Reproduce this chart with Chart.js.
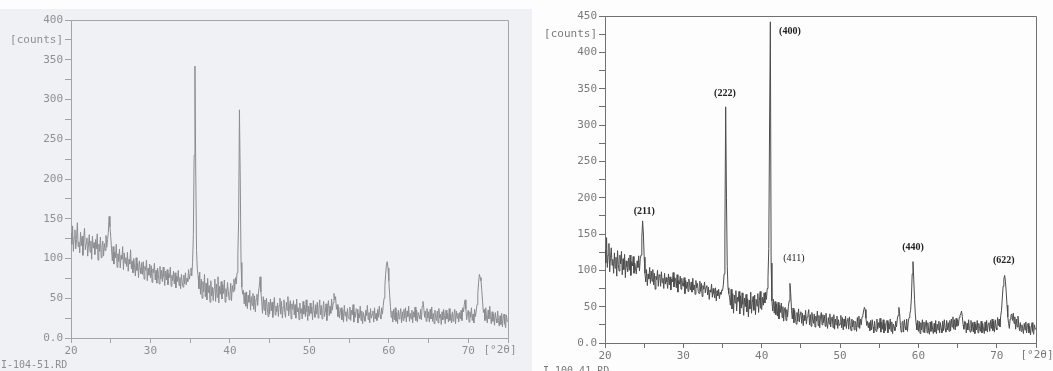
<!DOCTYPE html>
<html lang="en">
<head>
  <meta charset="UTF-8" />
  <title>XRD patterns</title>
  <script src="https://cdn.jsdelivr.net/npm/chart.js"></script>
  <style>
    body {
      margin: 0;
      width: 1053px;
      height: 371px;
      overflow: hidden;
      position: relative;
      background: #fdfdfd;
      font-family: 'DejaVu Sans Mono', monospace;
    }
    #leftBg {
      position: absolute;
      left: 0;
      top: 9px;
      width: 532px;
      height: 362px;
      background: #eff1f4;
    }
    canvas { position: absolute; top: 0; }
    #leftChart { left: 0; }
    #rightChart { left: 541px; }
    .file {
      position: absolute;
      font-size: 10px;
      line-height: 10px;
      color: #8c8e92;
    }
  </style>
</head>
<body>
  <div id="leftBg"></div>
  <canvas id="leftChart" width="532" height="371"></canvas>
  <canvas id="rightChart" width="512" height="371"></canvas>
  <div class="file" style="left:1px; top:360px;">I-104-51.RD</div>
  <div class="file" style="left:543px; top:366px; color:#777;">I-100-41.RD</div>

  <script>
    // scan: 20 .. 75 deg 2theta, 0.1 deg step
    const angleStart = 20;
    const angleStep = 0.1;

    // left pattern (I-104-51), one row per degree
    const leftCounts = [
      132, 118, 141, 109, 127, 136, 112, 124, 145, 115,
      121, 107, 133, 116, 128, 104, 125, 138, 111, 119,
      126, 103, 117, 130, 108, 122, 99, 128, 113, 120,
      105, 124, 112, 131, 98, 118, 109, 127, 101, 116,
      122, 103, 119, 110, 129, 114, 124, 133, 153, 140,
      128, 112, 97, 115, 93, 108, 101, 118, 89, 106,
      96, 112, 88, 104, 99, 115, 86, 107, 94, 101,
      90, 108, 84, 99, 93, 111, 87, 97, 82, 100,
      89, 78, 101, 85, 94, 76, 97, 88, 81, 95,
      80, 96, 74, 90, 85, 98, 72, 88, 79, 93,
      76, 91, 70, 87, 82, 94, 73, 85, 69, 88,
      80, 68, 90, 74, 85, 71, 89, 77, 66, 84,
      73, 86, 67, 81, 76, 89, 65, 79, 72, 84,
      68, 82, 63, 78, 71, 85, 66, 76, 62, 80,
      70, 64, 79, 68, 82, 67, 75, 71, 86, 74,
      80, 88, 78, 95, 130, 230, 342, 210, 110, 86,
      78, 62, 83, 55, 74, 50, 71, 58, 80, 52,
      69, 48, 75, 57, 66, 45, 72, 53, 64, 47,
      63, 74, 46, 68, 51, 77, 44, 65, 55, 71,
      49, 67, 56, 73, 45, 62, 52, 70, 58, 48,
      55, 69, 47, 66, 58, 74, 60, 76, 68, 82,
      105, 150, 287, 200, 95, 64, 55, 60, 43, 57,
      40, 58, 37, 54, 45, 60, 35, 52, 41, 56,
      36, 53, 33, 49, 55, 41, 58, 65, 77, 58,
      46, 31, 52, 35, 48, 29, 50, 38, 27, 45,
      30, 49, 34, 45, 26, 42, 51, 29, 40, 33,
      44, 27, 41, 50, 30, 46, 25, 39, 48, 32,
      26, 45, 35, 52, 28, 40, 47, 24, 43, 36,
      47, 29, 42, 25, 49, 33, 38, 23, 44, 31,
      37, 24, 46, 30, 41, 27, 48, 33, 22, 40,
      28, 44, 31, 39, 23, 47, 34, 26, 42, 30,
      45, 25, 37, 48, 29, 41, 24, 36, 46, 27,
      32, 43, 22, 38, 47, 28, 40, 31, 49, 35,
      44, 56, 48, 52, 36, 42, 27, 39, 25, 34,
      38, 23, 35, 20, 41, 28, 33, 21, 37, 26,
      24, 39, 22, 35, 29, 42, 20, 33, 26, 37,
      36, 19, 31, 25, 40, 22, 34, 18, 32, 27,
      21, 35, 28, 41, 23, 32, 19, 37, 25, 30,
      34, 20, 38, 24, 31, 22, 36, 26, 40, 29,
      24, 38, 30, 41, 50, 65, 80, 92, 96, 88,
      72, 55, 40, 26, 34, 20, 36, 23, 38, 21,
      32, 18, 35, 24, 30, 37, 19, 33, 22, 36,
      25, 38, 20, 34, 27, 40, 21, 31, 24, 35,
      19, 33, 26, 39, 22, 35, 20, 32, 28, 24,
      36, 23, 40, 46, 38, 26, 34, 21, 37, 25,
      33, 20, 36, 24, 39, 21, 31, 18, 35, 26,
      22, 34, 19, 37, 25, 30, 17, 33, 23, 36,
      28, 18, 35, 24, 31, 20, 37, 22, 30, 19,
      33, 21, 29, 36, 18, 34, 25, 31, 20, 32,
      24, 35, 22, 38, 33, 42, 48, 36, 23, 31,
      35, 20, 33, 26, 38, 22, 30, 19, 36, 27,
      34, 42, 56, 70, 80, 76, 72, 60, 46, 32,
      36, 22, 38, 25, 19, 35, 24, 40, 27, 18,
      33, 21, 30, 16, 32, 24, 19, 34, 22, 15,
      28, 17, 31, 14, 26, 30, 18, 13, 29, 21,
      21
    ];

    // right pattern (I-100-41)
    const rightCounts = [
      128, 110, 145, 104, 121, 137, 98, 118, 131, 107,
      115, 96, 124, 103, 118, 92, 127, 108, 99, 121,
      109, 126, 94, 116, 101, 122, 90, 113, 105, 98,
      117, 100, 121, 93, 112, 106, 119, 96, 110, 102,
      95, 113, 104, 120, 99, 116, 121, 145, 168, 150,
      118, 96, 84, 101, 79, 95, 88, 104, 82, 99,
      85, 101, 80, 96, 74, 92, 87, 100, 78, 94,
      92, 78, 98, 83, 89, 75, 96, 81, 90, 84,
      75, 95, 80, 91, 73, 88, 84, 97, 77, 90,
      88, 76, 94, 70, 86, 81, 92, 74, 89, 79,
      78, 90, 68, 86, 75, 84, 71, 88, 80, 73,
      84, 70, 89, 73, 80, 67, 86, 76, 82, 71,
      68, 85, 71, 82, 64, 79, 74, 84, 69, 77,
      79, 66, 77, 60, 73, 70, 81, 63, 75, 68,
      62, 76, 58, 72, 65, 74, 61, 70, 67, 73,
      72, 80, 95, 150, 325, 200, 105, 76, 68, 63,
      52, 74, 47, 68, 41, 66, 55, 72, 44, 63,
      57, 71, 40, 65, 48, 69, 53, 38, 62, 50,
      67, 43, 61, 36, 59, 47, 70, 41, 56, 64,
      45, 66, 39, 60, 51, 68, 42, 58, 71, 48,
      46, 63, 52, 69, 55, 70, 60, 75, 90, 130,
      300, 442, 110, 58, 44, 60, 41, 57, 39, 54,
      37, 56, 33, 52, 42, 55, 35, 50, 30, 47,
      49, 31, 46, 36, 50, 58, 82, 68, 45, 33,
      48, 28, 45, 34, 26, 42, 30, 47, 29, 40,
      43, 27, 41, 24, 38, 31, 45, 26, 36, 39,
      46, 25, 39, 23, 42, 33, 27, 40, 22, 37,
      30, 44, 24, 38, 21, 36, 42, 25, 39, 28,
      38, 23, 41, 27, 20, 35, 26, 40, 22, 34,
      36, 21, 39, 19, 33, 25, 37, 20, 32, 24,
      26, 38, 21, 35, 18, 33, 23, 37, 20, 31,
      34, 19, 36, 24, 17, 33, 22, 31, 18, 30,
      27, 16, 35, 22, 37, 20, 33, 25, 36, 38,
      44, 49, 46, 34, 24, 30, 21, 28, 17, 31,
      18, 32, 22, 14, 30, 20, 16, 33, 19, 28,
      21, 34, 15, 29, 19, 32, 14, 27, 17, 30,
      31, 14, 28, 19, 33, 16, 29, 13, 26, 22,
      17, 30, 22, 33, 38, 49, 40, 24, 15, 28,
      30, 15, 32, 22, 18, 33, 16, 29, 35, 40,
      45, 62, 95, 112, 88, 60, 40, 27, 18, 31,
      16, 30, 13, 28, 18, 32, 15, 29, 14, 26,
      31, 14, 28, 17, 12, 29, 16, 30, 19, 13,
      27, 15, 31, 13, 26, 18, 30, 14, 28, 20,
      14, 30, 17, 32, 20, 15, 31, 18, 28, 16,
      31, 17, 33, 22, 36, 19, 32, 18, 34, 23,
      32, 24, 35, 38, 40, 44, 36, 25, 19, 30,
      29, 14, 27, 18, 32, 20, 15, 31, 17, 28,
      15, 29, 13, 26, 18, 31, 14, 27, 20, 16,
      30, 14, 27, 19, 13, 29, 17, 31, 15, 26,
      28, 16, 31, 20, 33, 17, 30, 15, 32, 21,
      18, 35, 24, 33, 22, 38, 45, 62, 78, 88,
      93, 85, 70, 52, 36, 27, 20, 33, 38, 40,
      31, 41, 27, 36, 19, 33, 22, 37, 25, 17,
      28, 16, 25, 20, 13, 27, 18, 29, 14, 24,
      27, 14, 23, 11, 22, 28, 16, 12, 25, 19,
      20
    ];

    // hkl labels on the right pattern
    const peakNames = ['(211)', '(222)', '(400)', '(411)', '(440)', '(622)'];
    const peakAngles = [25.0, 35.3, 43.6, 44.1, 59.3, 70.9];
    const peakLabelCounts = [181, 343, 429, 116, 132, 113];
    const peakBold = [true, true, true, false, true, true];

    const xLabelTicks = [20, 30, 40, 50, 60, 70];

    function toPoints(counts) {
      return counts.map((c, i) => ({ x: angleStart + i * angleStep, y: c }));
    }

    const framePlugin = {
      id: 'frame',
      afterDraw(chart, args, o) {
        const ctx = chart.ctx;
        const a = chart.chartArea;
        ctx.save();
        ctx.strokeStyle = o.color;
        ctx.lineWidth = 1;
        ctx.beginPath();
        ctx.moveTo(a.left, Math.round(a.top) + 0.5);
        ctx.lineTo(Math.round(a.right) + 0.5, Math.round(a.top) + 0.5);
        ctx.lineTo(Math.round(a.right) + 0.5, a.bottom);
        ctx.stroke();

        ctx.fillStyle = o.textColor;
        ctx.font = '11px "DejaVu Sans Mono"';
        ctx.textAlign = 'center';
        ctx.textBaseline = 'top';
        ctx.fillText('[°2θ]', a.right + o.unitShift, a.bottom + 7);

        if (o.peaks) {
          const x = chart.scales.x, y = chart.scales.y;
          ctx.fillStyle = '#222';
          ctx.textBaseline = 'middle';
          peakNames.forEach((name, i) => {
            ctx.font = (peakBold[i] ? 'bold ' : '') + '10px "Liberation Serif"';
            ctx.fillText(name, x.getPixelForValue(peakAngles[i]), y.getPixelForValue(peakLabelCounts[i]));
          });
        }
        ctx.restore();
      }
    };

    function makeChart(id, counts, s) {
      const ctx = document.getElementById(id).getContext('2d');
      return new Chart(ctx, {
        type: 'line',
        data: {
          datasets: [{
            data: toPoints(counts),
            borderColor: s.line,
            borderWidth: 1,
            pointRadius: 0,
            tension: 0
          }]
        },
        options: {
          responsive: false,
          animation: false,
          events: [],
          layout: { padding: { top: s.top, right: s.padRight, left: 0, bottom: 0 } },
          plugins: {
            legend: { display: false },
            tooltip: { enabled: false },
            frame: { color: s.axis, textColor: s.text, unitShift: s.unitShift, peaks: s.peaks }
          },
          scales: {
            x: {
              type: 'linear',
              min: 20,
              max: 75,
              afterFit: sc => { sc.height = s.xHeight; },
              border: { display: true, color: s.axis },
              grid: { drawOnChartArea: false, tickLength: 5, tickColor: s.axis },
              ticks: {
                stepSize: 5,
                autoSkip: false,
                maxRotation: 0,
                padding: 2,
                color: s.text,
                font: { family: 'DejaVu Sans Mono', size: 11 },
                callback: v => xLabelTicks.includes(v) ? String(v) : ''
              }
            },
            y: {
              min: 0,
              max: s.yMax,
              afterFit: sc => { sc.width = s.yWidth; },
              border: { display: true, color: s.axis },
              grid: { drawOnChartArea: false, tickLength: 6, tickColor: s.axis },
              ticks: {
                stepSize: 25,
                autoSkip: false,
                padding: 2,
                color: s.text,
                font: { family: 'DejaVu Sans Mono', size: 11 },
                callback: v => {
                  if (v === 0) return '0.0';
                  if (v === s.yMax - 25) return '[counts]';
                  return v % 50 === 0 ? String(v) : '';
                }
              }
            }
          }
        },
        plugins: [framePlugin]
      });
    }

    makeChart('leftChart', leftCounts, {
      line: '#8a8c90', axis: '#a2a4a8', text: '#8e9094',
      yMax: 400, top: 20, padRight: 24, yWidth: 71, xHeight: 33,
      unitShift: -8, peaks: false
    });

    makeChart('rightChart', rightCounts, {
      line: '#4c4c4c', axis: '#707070', text: '#7a7a7a',
      yMax: 450, top: 16, padRight: 17, yWidth: 64, xHeight: 28,
      unitShift: 1, peaks: true
    });
  </script>
</body>
</html>
